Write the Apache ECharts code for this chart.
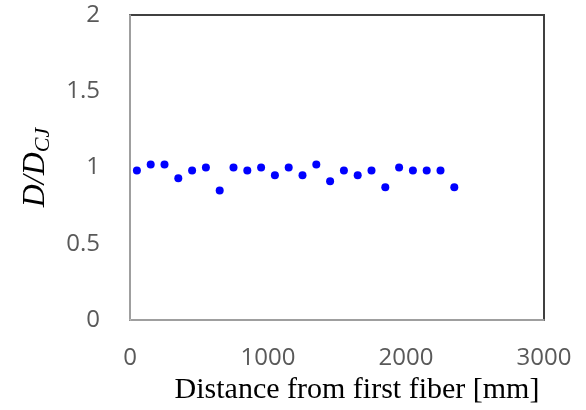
<!DOCTYPE html>
<html>
<head>
<meta charset="utf-8">
<script src="https://cdn.jsdelivr.net/npm/echarts@6/dist/echarts.min.js"></script>
<style>
  html, body { margin: 0; padding: 0; background: #fff; }
  #chart { width: 586px; height: 410px; }
</style>
</head>
<body>
<div id="chart"></div>
<script>
  // distance from first fiber [mm]
  const distance = [50, 150, 250, 350, 450, 550, 650, 750, 850, 950, 1050, 1150,
                    1250, 1350, 1450, 1550, 1650, 1750, 1850, 1950, 2050, 2150, 2250, 2350];
  // D / D_CJ
  const ratio = [0.98, 1.02, 1.02, 0.93, 0.98, 1.00, 0.85, 1.00, 0.98, 1.00, 0.95, 1.00,
                 0.95, 1.02, 0.91, 0.98, 0.95, 0.98, 0.87, 1.00, 0.98, 0.98, 0.98, 0.87];
  const xTicks = [0, 1000, 2000, 3000];
  const yTicks = [0, 0.5, 1, 1.5, 2];

  let chart = echarts.init(document.getElementById('chart'));
  let points = distance.map((d, i) => [d, ratio[i]]);

  let option = {
    animation: false,
    grid: {
      left: 130, right: 42, top: 15, bottom: 90,
      show: true,
      borderColor: '#404040',
      borderWidth: 2,
      backgroundColor: 'transparent'
    },
    xAxis: {
      type: 'value',
      min: xTicks[0],
      max: xTicks[xTicks.length - 1],
      interval: 1000,
      name: 'Distance from first fiber [mm]',
      nameLocation: 'middle',
      nameGap: 51,
      nameTextStyle: {
        fontFamily: 'Liberation Serif', fontSize: 30, color: '#000',
        padding: [0, 0, 0, 40]
      },
      axisLine: { show: true, onZero: false, lineStyle: { color: '#bfbfbf', width: 1.5 } },
      axisTick: { show: false },
      splitLine: { show: false },
      axisLabel: {
        fontFamily: 'Open Sans', fontSize: 24, color: '#595959', margin: 26,
        formatter: v => String(v)
      }
    },
    yAxis: {
      type: 'value',
      min: yTicks[0],
      max: yTicks[yTicks.length - 1],
      interval: 0.5,
      name: '{d|D/D}{s|CJ}',
      nameLocation: 'middle',
      nameRotate: 90,
      nameGap: 76,
      nameTextStyle: {
        rich: {
          d: { fontFamily: 'Liberation Serif', fontStyle: 'italic', fontSize: 32, color: '#000' },
          s: { fontFamily: 'Liberation Serif', fontStyle: 'italic', fontSize: 22, color: '#000',
               verticalAlign: 'bottom', padding: [14, 0, 0, 0] }
        }
      },
      axisLine: { show: true, onZero: false, lineStyle: { color: '#bfbfbf', width: 1.5 } },
      axisTick: { show: false },
      splitLine: { show: false },
      axisLabel: {
        fontFamily: 'Open Sans', fontSize: 24, color: '#595959', margin: 30,
        formatter: v => String(v)
      }
    },
    series: [{
      type: 'scatter',
      data: points,
      symbol: 'circle',
      symbolSize: 8,
      itemStyle: { color: '#0000ff', opacity: 1 }
    }]
  };
  chart.setOption(option);
</script>
</body>
</html>
